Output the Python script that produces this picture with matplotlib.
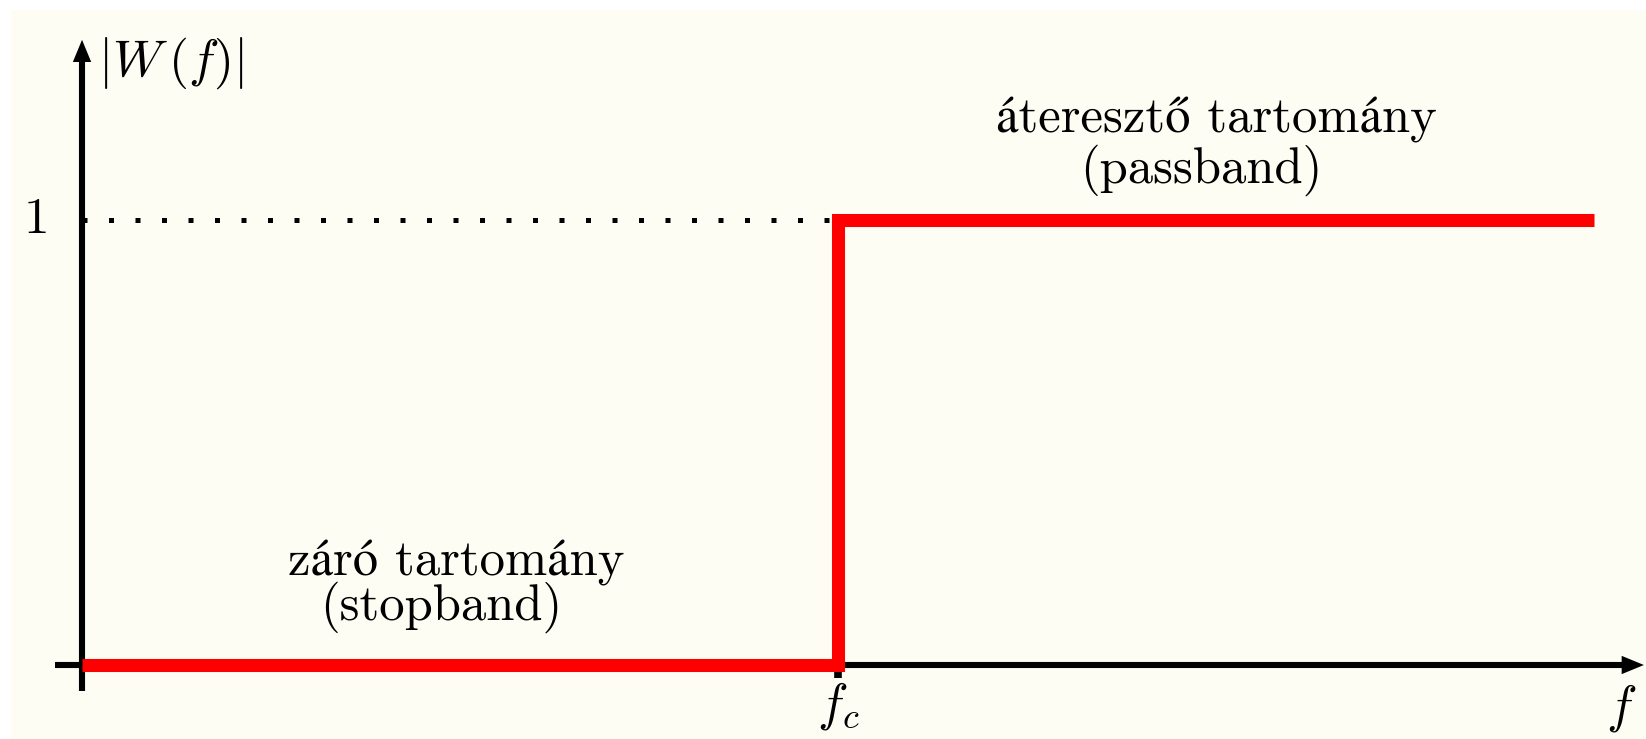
import matplotlib
matplotlib.use("Agg")
import matplotlib.pyplot as plt
from matplotlib.patches import Rectangle

plt.rcParams["font.family"] = ["cmr10", "STIXGeneral"]
plt.rcParams["mathtext.fontset"] = "cm"
plt.rcParams["axes.unicode_minus"] = False

# Ideal high-pass filter: |W(f)| = 0 below f_c, 1 above
fc = 1.0
f_end = 2.0
step_f = [0.0, fc, f_end]
step_W = [0.0, 1.0, 1.0]
pass_level = 1.0

y_ticklabel = "1"
x_ticklabel = r"$f_c$"
x_axis_label = r"$f$"
y_axis_label = r"$|W\,(f)|$"
stop_lines = ["záró tartomány", "(stopband)"]
pass_lines = ["áteresztő tartomány", "(passband)"]

W, H, DPI = 1646, 739, 100
fig = plt.figure(figsize=(W / DPI, H / DPI), dpi=DPI, facecolor="white")
fig.patches.append(Rectangle((11 / W, -0.02), 1.02, 1.02 - 10 / H,
                             transform=fig.transFigure,
                             facecolor="#fefdf4", edgecolor="none", zorder=-5))

ax = fig.add_axes([0, 0, 1, 1])
ax.set_zorder(1)
ax.patch.set_visible(False)
ax.set_xlim(-0.1085, 2.0688)
ax.set_ylim(-0.1663, 1.4944)
ax.axis("off")

axis_lw = 4.4
black = "black"
text_size = 36.5
math_size = 37

# coordinate axes
ax.plot([-0.036, 2.05], [0, 0], color=black, lw=axis_lw,
        solid_capstyle="butt", zorder=2)
ax.plot([0, 0], [-0.058, 1.38], color=black, lw=axis_lw,
        solid_capstyle="butt", zorder=2)
arrow_style = "-|>,head_length=0.8,head_width=0.33"
ax.annotate("", xy=(2.066, 0), xytext=(2.0, 0),
            arrowprops=dict(arrowstyle=arrow_style, color=black, lw=0,
                            mutation_scale=20, shrinkA=0, shrinkB=0), zorder=3)
ax.annotate("", xy=(0, 1.405), xytext=(0, 1.3),
            arrowprops=dict(arrowstyle=arrow_style, color=black, lw=0,
                            mutation_scale=20, shrinkA=0, shrinkB=0), zorder=3)

# tick below the cutoff frequency
ax.plot([fc, fc], [0, -0.03], color=black, lw=5.5,
        solid_capstyle="butt", zorder=2)

# dotted guide at |W| = 1
ax.plot([0, fc], [pass_level, pass_level], color=black, lw=3.6,
        linestyle=(0, (1, 4.3)), dash_capstyle="butt", zorder=3)

# filter response
ax.step(step_f, step_W, where="post", color="#ff0000", lw=9.4,
        solid_joinstyle="miter", solid_capstyle="butt", zorder=4)

# labels
ax.text(-0.06, pass_level, y_ticklabel, fontsize=37, ha="center", va="center")
ax.text(fc, -0.092, x_ticklabel, fontsize=math_size, ha="center", va="center")
ax.text(2.036, -0.096, x_axis_label, fontsize=math_size, ha="center", va="center")
ax.text(0.021, 1.353, y_axis_label, fontsize=math_size, ha="left", va="center")

ax.text(0.495, 0.202, stop_lines[0], fontsize=text_size, ha="center", va="baseline")
ax.text(0.475, 0.101, stop_lines[1], fontsize=text_size, ha="center", va="baseline")
ax.text(1.50, 1.196, pass_lines[0], fontsize=text_size, ha="center", va="baseline")
ax.text(1.48, 1.083, pass_lines[1], fontsize=text_size, ha="center", va="baseline")

fig.savefig("out.png", dpi=DPI, facecolor=fig.get_facecolor())
